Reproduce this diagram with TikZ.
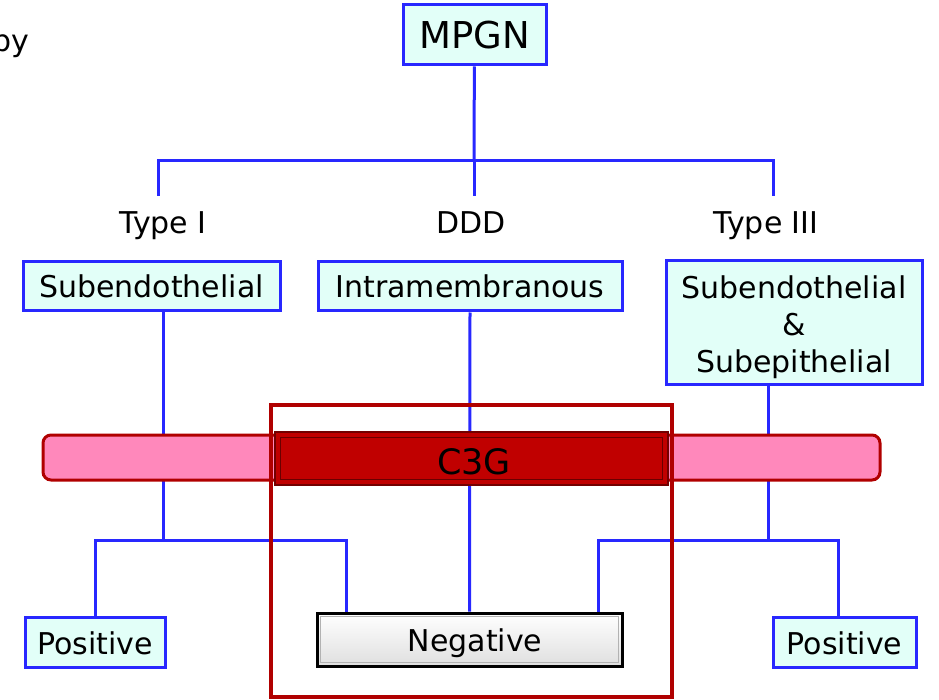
\documentclass[tikz,border=0pt]{standalone}
\usepackage{fontspec}
\setmainfont{DejaVu Sans}
\definecolor{lineblue}{RGB}{40,40,255}
\definecolor{boxfill}{RGB}{226,255,248}
\definecolor{bandpink}{RGB}{255,136,187}
\definecolor{bandred}{RGB}{192,0,0}
\definecolor{framered}{RGB}{176,0,0}
\tikzset{
  typebox/.style={draw=lineblue,fill=boxfill,line width=3pt,inner sep=0pt,align=center},
  link/.style={draw=lineblue,line width=3pt},
  typelabel/.style={inner sep=0pt}
}
\begin{document}
\begin{tikzpicture}[x=1pt,y=-1pt,font=\fontsize{30}{35}\selectfont]
        \useasboundingbox (0,0) rectangle (939,700);
        % cut-off text
        \node[typelabel,anchor=base east] (py) at (29,52) {py};
        % top
        \node[typebox,minimum width=143,minimum height=60,font=\fontsize{37}{40}\selectfont] (mpgn) at (474.5,35) {MPGN};
        \coordinate (split) at (474,161);
        \coordinate (s1) at (158,196);
        \coordinate (s2) at (474,196);
        \coordinate (s3) at (773,196);
        \node[typelabel,anchor=base] (t1) at (163,234) {Type I};
        \node[typelabel,anchor=base] (t2) at (471,234) {DDD};
        \node[typelabel,anchor=base] (t3) at (766,234) {Type III};
        % deposit boxes
        \node[typebox,minimum width=257,minimum height=49] (sub) at (151.5,286.5) {Subendothelial};
        \node[typebox,minimum width=304,minimum height=49] (intra) at (470,286.5) {Intramembranous};
        \node[typebox,minimum width=256,minimum height=123] (both) at (794,322.5) {};
        \node[typelabel,align=center,font=\fontsize{30}{37}\selectfont] (bothtext) at ([yshift=-5]both.center) {Subendothelial\\\&\\Subepithelial};
        % result boxes
        \node[typebox,minimum width=140,minimum height=50] (posl) at (95,642) {};
        \node[typelabel,anchor=base] (posltext) at (95,654) {Positive};
        \node[typebox,minimum width=143,minimum height=50] (posr) at (844.5,642) {};
        \node[typelabel,anchor=base] (posrtext) at (844.5,654) {Positive};
        \node[draw=black,line width=3pt,top color=white,bottom color=gray!25,minimum width=305,minimum height=53,inner sep=0pt] (neg) at (469.5,639.5) {};
        \draw[gray!60,line width=0.8pt] ([shift={(5,-5)}]neg.south west) rectangle ([shift={(-5,5)}]neg.north east);
        \node[typelabel,anchor=base] (negtext) at (475,651) {Negative};
        \coordinate (lj) at (163,540);
        \coordinate (rj) at (768,540);
        % connectors
        \draw[link] (mpgn) -- (split);
        \draw[link] (s1) |- (split) -| (s3);
        \draw[link] (split) -- (s2);
        \draw[link] ([xshift=11.5]sub.south) -- (lj);
        \draw[link] (posl.north) |- (lj) -| ([xshift=-123.5]neg.north);
        \draw[link] (intra.south) -- (neg.north);
        \draw[link] ([xshift=-26]both.south) -- (rj);
        \draw[link] ([xshift=-6.5]posr.north) |- (rj) -| ([xshift=128.5]neg.north);
        % C3G band
        \draw[draw=framered,fill=bandpink,line width=3pt,rounded corners=8] (43,435) rectangle (880,480);
        \draw[draw=framered,line width=3.5pt] (271,405) rectangle (672,697);
        \node[fill=bandred,draw=bandred!60!black,line width=1.5pt,minimum width=393,minimum height=53,inner sep=0pt] (c3g) at (471.5,458.5) {};
        \draw[bandred!55!black,line width=1pt] ([shift={(6,-6)}]c3g.south west) rectangle ([shift={(-6,6)}]c3g.north east);
        \node[typelabel,anchor=base,font=\fontsize{35}{40}\selectfont] (c3gtext) at (474,474) {C3G};
\end{tikzpicture}
\end{document}
